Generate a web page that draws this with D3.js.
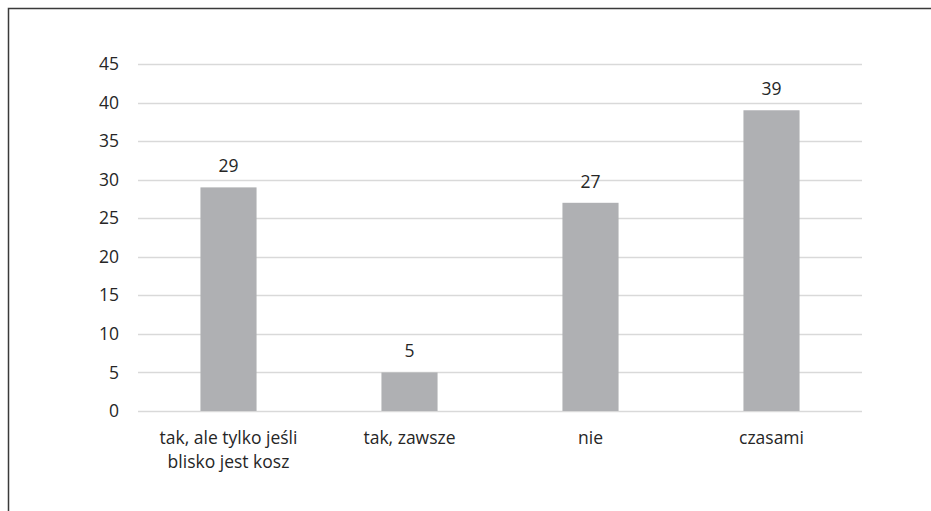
<!DOCTYPE html>
<html>
<head>
<meta charset="utf-8">
<script src="https://cdn.jsdelivr.net/npm/d3@7"></script>
<style>
  html, body { margin: 0; padding: 0; background: #fff; }
  svg { display: block; }
  text { font-family: "Open Sans", Lato, sans-serif; fill: #262626; }
</style>
</head>
<body>
<svg id="chart" width="931" height="511"></svg>
<script>
// Survey answers and counts
const categories = [["tak, ale tylko jeśli", "blisko jest kosz"], ["tak, zawsze"], ["nie"], ["czasami"]];
const values = [29, 5, 27, 39];
const yTicks = [0, 5, 10, 15, 20, 25, 30, 35, 40, 45];

const FONT = "'Open Sans', Lato, sans-serif";
const FS = 17.5;

const svg = d3.select("#chart");
const W = 931, H = 511;
const margin = { left: 138, right: 69, top: 64, bottom: 100 };
const plotW = W - margin.left - margin.right;

// Frame: top and left edges only
svg.append("path")
  .attr("d", `M8.5,${H} V8.5 H${W}`)
  .attr("fill", "none")
  .attr("stroke", "#3a3a3a")
  .attr("stroke-width", 1.5);

const x = d3.scaleBand()
  .domain(d3.range(categories.length))
  .range([margin.left, margin.left + plotW])
  .paddingInner(0.69)
  .paddingOuter(0.345);

const y = d3.scaleLinear()
  .domain([0, 45])
  .range([411, 64]);

// Gridlines
svg.append("g")
  .selectAll("line")
  .data(yTicks)
  .join("line")
  .attr("x1", margin.left)
  .attr("x2", margin.left + plotW)
  .attr("y1", d => Math.round(y(d)) + 0.5)
  .attr("y2", d => Math.round(y(d)) + 0.5)
  .attr("stroke", "#d9d9d9")
  .attr("stroke-width", 1.3);

// Y-axis labels
const yAxis = d3.axisLeft(y).tickValues(yTicks).tickSize(0).tickPadding(0);
const yg = svg.append("g")
  .attr("transform", "translate(119,0)")
  .call(yAxis);
yg.select(".domain").remove();
yg.selectAll("text")
  .attr("font-size", FS)
  .attr("font-family", FONT)
  .attr("fill", "#262626");

// Bars
svg.append("g")
  .selectAll("rect")
  .data(values)
  .join("rect")
  .attr("x", (d, i) => x(i))
  .attr("width", x.bandwidth())
  .attr("y", d => y(d))
  .attr("height", d => y(0) - y(d))
  .attr("fill", "#afb0b3");

// Value labels
svg.append("g")
  .selectAll("text")
  .data(values)
  .join("text")
  .attr("x", (d, i) => x(i) + x.bandwidth() / 2)
  .attr("y", d => y(d) - 15)
  .attr("text-anchor", "middle")
  .attr("font-size", FS)
  .text(d => d);

// Category labels
const cat = svg.append("g")
  .selectAll("text")
  .data(categories)
  .join("text")
  .attr("x", (d, i) => x(i) + x.bandwidth() / 2)
  .attr("y", 444)
  .attr("text-anchor", "middle")
  .attr("font-size", FS);
cat.selectAll("tspan")
  .data(d => d)
  .join("tspan")
  .attr("x", function () { return d3.select(this.parentNode).attr("x"); })
  .attr("dy", (d, i) => i === 0 ? 0 : 24)
  .text(d => d);
</script>
</body>
</html>
